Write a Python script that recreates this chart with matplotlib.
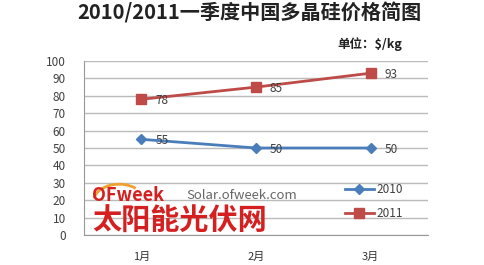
import matplotlib
matplotlib.use("Agg")
import matplotlib.pyplot as plt
from matplotlib.patches import Arc

plt.rcParams['font.family'] = ['Noto Sans CJK SC', 'DejaVu Sans']

categories = ['1月', '2月', '3月']
s2010 = [55, 50, 50]
s2011 = [78, 85, 93]
yticks = [0, 10, 20, 30, 40, 50, 60, 70, 80, 90, 100]

fig = plt.figure(figsize=(4.84, 2.65), dpi=100)
ax = fig.add_axes([0.1736, 0.1132, 0.7108, 0.6566])
x = list(range(len(categories)))

ax.plot(x, s2010, color='#4A7EBB', lw=2, marker='D', ms=5, label='2010', zorder=3)
ax.plot(x, s2011, color='#BE4B48', lw=2, marker='s', ms=7, label='2011', zorder=3)

for xi, v in zip(x, s2010):
    ax.annotate(str(v), (xi, v), xytext=(10, -1), textcoords='offset points',
                va='center', ha='left', fontsize=8.5, color='#404040')
for xi, v in zip(x, s2011):
    ax.annotate(str(v), (xi, v), xytext=(10, -1), textcoords='offset points',
                va='center', ha='left', fontsize=8.5, color='#404040')

ax.set_xlim(-0.5, 2.5)
ax.set_ylim(0, 100)
ax.set_yticks(yticks)
ax.set_xticks(x)
ax.set_xticklabels(categories, fontsize=8, color='#333333')
ax.tick_params(axis='y', labelsize=8.5, colors='#404040', length=0, pad=13)
ax.tick_params(axis='x', length=0, pad=12)
ax.grid(axis='y', color='#BBBBBB', lw=1)
ax.set_axisbelow(True)
for s in ['top', 'right']:
    ax.spines[s].set_visible(False)
ax.spines['left'].set_color('#999999')
ax.spines['bottom'].set_color('#999999')

leg = ax.legend(loc='upper left', bbox_to_anchor=(0.74, 0.33), frameon=False,
                fontsize=8.5, handlelength=2.5, labelspacing=0.9, borderpad=0,
                handletextpad=0.2, labelcolor='#404040')

fig.text(0.515, 0.952, '2010/2011一季度中国多晶硅价格简图', ha='center', va='center',
         fontsize=14.5, fontweight='bold', color='#222222')
fig.text(0.764, 0.832, '单位：$/kg', ha='center', va='center', fontsize=9,
         fontweight='bold', color='#222222')

# watermark
fig.patches.append(Arc((0.246, 0.240), 0.105, 0.13, theta1=55, theta2=168,
                       transform=fig.transFigure, color='#F0A030', lw=2))
fig.text(0.19, 0.262, 'OFweek', fontsize=13, fontweight='bold', fontstyle='italic',
         color='#D42020', ha='left', va='center')
fig.text(0.386, 0.262, 'Solar.ofweek.com', fontsize=9.5, color='#666666', ha='left', va='center')
fig.text(0.19, 0.165, '太阳能光伏网', fontsize=21, fontweight='bold', color='#D42020',
         ha='left', va='center')

fig.savefig('out.png', dpi=100)
